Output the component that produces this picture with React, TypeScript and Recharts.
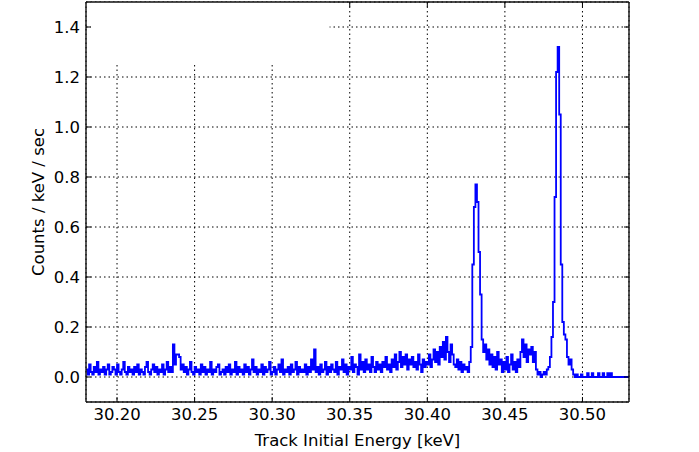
import { LineChart, Line, XAxis, YAxis, CartesianGrid, ReferenceArea, Label } from 'recharts'

// histogram bins, 1 eV wide, starting at 30.18 keV
const BIN_START = 30.18
const BIN_WIDTH = 0.001

// counts / keV / sec per bin, one row = 10 bins
const rate = [
  .03, .01, .05, .02, .01, .04, .02, .06, .01, .03, // 30.18
  .02, .04, .01, .03, .05, .01, .02, .04, .03, .01, // 30.19
  .05, .02, .01, .03, .06, .02, .01, .04, .02, .03, // 30.20
  .01, .04, .02, .05, .01, .03, .02, .01, .04, .06, // 30.21
  .02, .01, .03, .05, .02, .04, .01, .03, .02, .05, // 30.22
  .01, .03, .06, .02, .04, .02, .13, .05, .09, .09, // 30.23
  .08, .03, .05, .02, .04, .01, .03, .06, .02, .01, // 30.24
  .04, .02, .03, .01, .05, .02, .04, .01, .03, .02, // 30.25
  .06, .01, .03, .02, .04, .05, .01, .02, .03, .01, // 30.26
  .04, .02, .05, .01, .03, .02, .06, .01, .04, .02, // 30.27
  .03, .01, .05, .02, .04, .01, .03, .07, .02, .04, // 30.28
  .01, .03, .02, .05, .01, .04, .02, .03, .06, .01, // 30.29
  .02, .04, .01, .03, .05, .02, .07, .01, .03, .02, // 30.30
  .04, .01, .05, .02, .03, .06, .01, .04, .02, .03, // 30.31
  .02, .05, .01, .04, .02, .07, .03, .11, .02, .04, // 30.32
  .01, .05, .02, .03, .06, .01, .04, .02, .05, .03, // 30.33
  .02, .06, .01, .04, .03, .07, .02, .05, .01, .04, // 30.34
  .03, .08, .02, .05, .04, .01, .09, .03, .06, .02, // 30.35
  .07, .03, .05, .02, .08, .04, .02, .06, .03, .05, // 30.36
  .02, .06, .04, .08, .03, .05, .02, .07, .04, .09, // 30.37
  .03, .06, .10, .04, .08, .05, .09, .03, .07, .05, // 30.38
  .08, .04, .06, .03, .09, .05, .02, .07, .04, .06, // 30.39
  .05, .09, .04, .07, .11, .06, .10, .05, .12, .08, // 30.40
  .14, .07, .16, .10, .06, .13, .09, .05, .04, .07, // 30.41
  .03, .06, .02, .05, .03, .04, .02, .06, .12, .45, // 30.42
  .68, .77, .70, .50, .33, .15, .10, .13, .07, .11, // 30.43
  .05, .09, .04, .08, .03, .10, .05, .07, .02, .06, // 30.44
  .03, .08, .02, .05, .09, .03, .06, .02, .07, .04, // 30.45
  .10, .15, .08, .13, .06, .11, .09, .12, .06, .10, // 30.46
  .03, .01, .02, 0, .01, .02, .01, .03, .04, .08, // 30.47
  .16, .30, .72, 1.22, 1.32, 1.05, .45, .22, .17, .15, // 30.48
  .08, .05, .07, .03, .01, 0, .01, 0, 0, .01, // 30.49
  0, 0, 0, .015, 0, 0, .015, 0, 0, 0, // 30.50
  .015, 0, 0, .015, 0, 0, .015, 0, .015, 0, // 30.51
  0, 0, 0, 0, 0, 0, 0, 0, 0, 0, // 30.52
  0,
]

const xTicks = [30.2, 30.25, 30.3, 30.35, 30.4, 30.45, 30.5]
const xTicksTop = [30.35, 30.4, 30.45, 30.5]
const yTicks = [0, 0.2, 0.4, 0.6, 0.8, 1.0, 1.2, 1.4]

const data = rate.map((y, i) => ({ e: BIN_START + i * BIN_WIDTH, y }))

const FONT = 16.5
const tickStyle = { fontSize: FONT, fill: '#000' }
const frame = { stroke: '#111', strokeWidth: 1.4 }

export default function App() {
  return (
    <div style={{ position: 'absolute', left: 0, top: 0, width: 699, height: 452, background: '#fff', fontFamily: '"DejaVu Sans", sans-serif' }}>
      <LineChart width={699} height={452} data={data} margin={{ top: 1, right: 69, left: 0, bottom: 0 }}>
        <CartesianGrid stroke="#000" strokeDasharray="1.5 3" strokeWidth={1} />
        {/* blank legend box in the upper left corner */}
        <ReferenceArea x1={30.1832} x2={30.337} y1={1.26} y2={1.5} fill="#fff" fillOpacity={1} stroke="none" />
        <XAxis
          xAxisId="top"
          orientation="top"
          dataKey="e"
          type="number"
          domain={[30.18, 30.53]}
          allowDataOverflow
          ticks={xTicksTop}
          height={1}
          tick={() => <g />}
          tickSize={-5}
          axisLine={frame}
          tickLine={{ stroke: '#000' }}
        />
        <YAxis
          yAxisId="right"
          orientation="right"
          type="number"
          domain={[-0.1, 1.5]}
          allowDataOverflow
          ticks={yTicks}
          width={1}
          tick={() => <g />}
          tickSize={-5}
          axisLine={frame}
          tickLine={{ stroke: '#000' }}
        />
        <XAxis
          dataKey="e"
          type="number"
          domain={[30.18, 30.53]}
          allowDataOverflow
          ticks={xTicks}
          tickFormatter={(v) => Number(v).toFixed(2)}
          height={50}
          tick={tickStyle}
          tickSize={-5}
          tickMargin={11}
          axisLine={frame}
          tickLine={{ stroke: '#000' }}
        >
          <Label value="Track Initial Energy [keV]" position="insideBottom" offset={6} fontSize={FONT} fill="#000" />
        </XAxis>
        <YAxis
          type="number"
          domain={[-0.1, 1.5]}
          allowDataOverflow
          ticks={yTicks}
          tickFormatter={(v) => Number(v).toFixed(1)}
          width={86}
          tick={tickStyle}
          tickSize={-5}
          tickMargin={11}
          axisLine={frame}
          tickLine={{ stroke: '#000' }}
        >
          <Label
            value="Counts / keV / sec"
            angle={-90}
            position="insideLeft"
            offset={38}
            fontSize={FONT}
            fill="#000"
            style={{ textAnchor: 'middle' }}
          />
        </YAxis>
        <Line
          dataKey="y"
          type="stepAfter"
          stroke="#0000ff"
          strokeWidth={1.8}
          dot={false}
          activeDot={false}
          isAnimationActive={false}
        />
      </LineChart>
    </div>
  )
}
